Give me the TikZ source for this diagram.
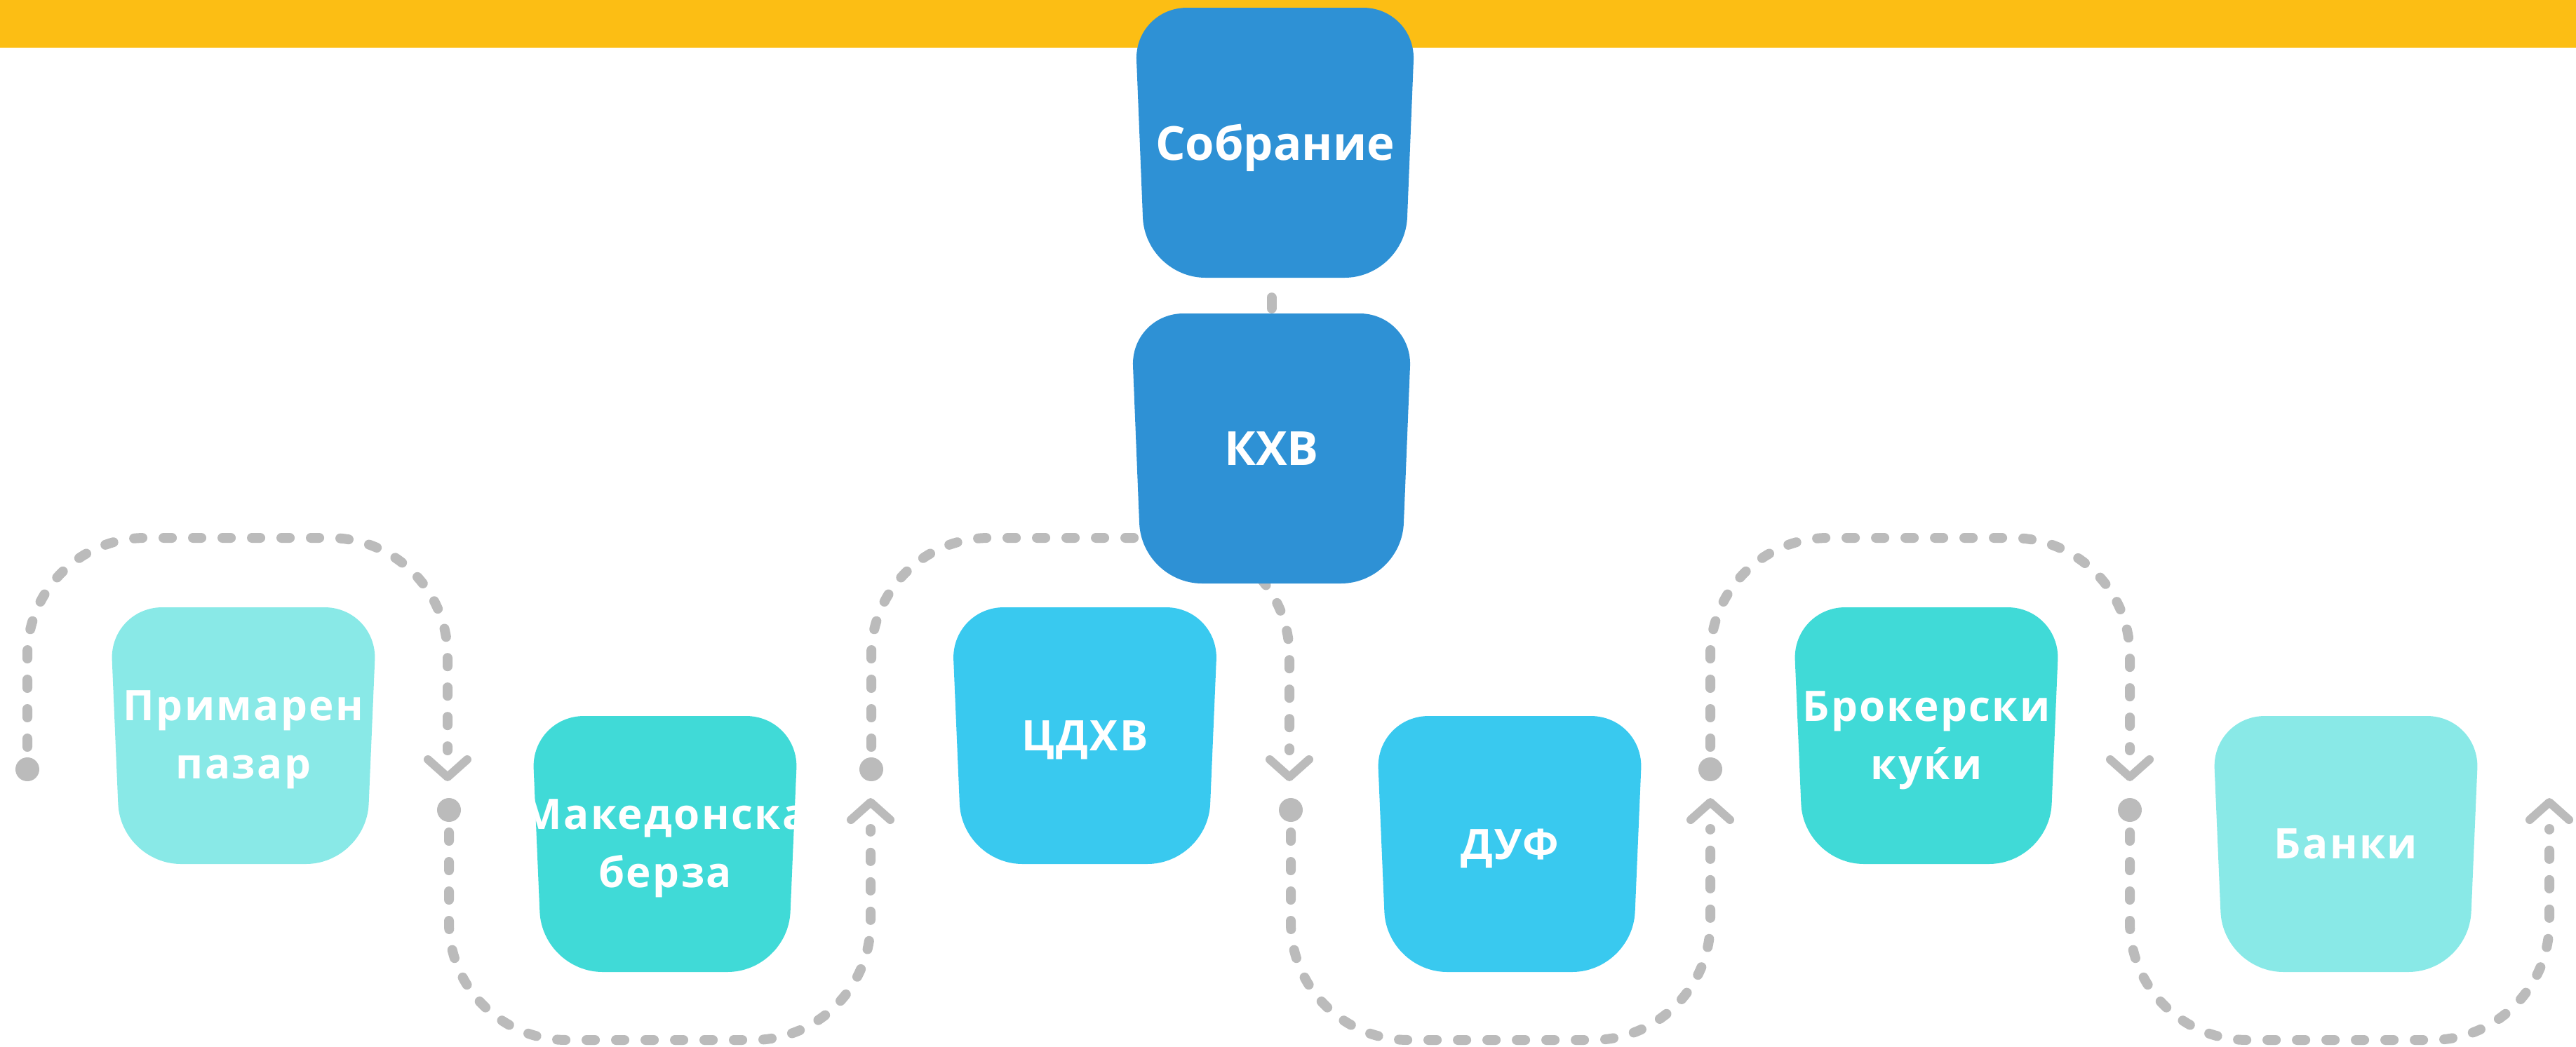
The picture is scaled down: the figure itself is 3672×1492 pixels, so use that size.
\documentclass[tikz,border=0pt]{standalone}
\usepackage{fontspec}
\setmainfont{Open Sans}
\newfontfamily\smallspaced{Open Sans}[LetterSpace=4]
\definecolor{topyellow}{HTML}{FCBE14}
\definecolor{dblue}{HTML}{2E91D5}
\definecolor{lblue}{HTML}{39C9EF}
\definecolor{turq}{HTML}{40DAD7}
\definecolor{pale}{HTML}{89E9E7}
\definecolor{flowgray}{HTML}{BBBBBB}
\tikzset{
  flow/.style={draw=flowgray, line width=14pt, line cap=round, dash pattern=on 12pt off 30pt, rounded corners=168pt},
  chev/.style={draw=flowgray, line width=12pt, line cap=round, line join=round},
  link/.style={draw=flowgray, line width=14pt, line cap=round},
  dotn/.style={circle, fill=flowgray, inner sep=0pt, minimum size=34pt},
  lbl/.style={text=white, align=center, inner sep=0pt},
  bigtxt/.style={font=\bfseries\fontsize{67}{83}\selectfont},
  smalltxt/.style={font=\smallspaced\bfseries\fontsize{60}{83}\selectfont},
}
% #1 name, #2 cx, #3 ytop, #4 ybot, #5 top half width, #6 bottom half width, #7 colour, #8 text options, #9 text
\newcommand\tbox[9]{%
  \fill[#7] (#2,#3) [rounded corners=75pt] -- ({#2+#5},#3) -- ({#2+(#5+#6)/2},{(#3+#4)/2})
     [rounded corners=86pt] -- ({#2+#6},#4) -- ({#2-#6},#4) -- ({#2-(#5+#6)/2},{(#3+#4)/2})
     [rounded corners=75pt] -- ({#2-#5},#3) -- cycle;
  \node[lbl, #8, minimum width={2*#5}, minimum height={#4-#3}] (#1) at (#2,{(#3+#4)/2}) {#9};
}
\begin{document}
\begin{tikzpicture}[x=1pt,y=-1pt]
\useasboundingbox (0,0) rectangle (3672,1492);
\fill[topyellow] (0,0) rectangle (3672,68);

% dots
\node[dotn] (d0) at (39,1097) {};
\node[dotn] (d1) at (640,1155) {};
\node[dotn] (d2) at (1242,1097) {};
\node[dotn] (d3) at (1840,1155) {};
\node[dotn] (d4) at (2438,1097) {};
\node[dotn] (d5) at (3036,1155) {};
% chevron tips
\coordinate (t1) at (638,1108);
\coordinate (t2) at (1241,1144);
\coordinate (t3) at (1838,1108);
\coordinate (t4) at (2438,1144);
\coordinate (t5) at (3036,1108);
\coordinate (t6) at (3634,1144);

% arches over the upper row
\draw[flow, shorten <=32pt, shorten >=38pt] (d0.center) -- (d0.center |- 0,767) -- (t1 |- 0,767) -- (t1);
\draw[flow, shorten <=32pt, shorten >=38pt] (d2.center) -- (d2.center |- 0,767) -- (t3 |- 0,767) -- (t3);
\draw[flow, shorten <=32pt, shorten >=38pt] (d4.center) -- (d4.center |- 0,767) -- (t5 |- 0,767) -- (t5);
% U-turns under the lower row
\draw[flow, shorten <=32pt, shorten >=38pt] (d1.center) -- (d1.center |- 0,1483) -- (t2 |- 0,1483) -- (t2);
\draw[flow, shorten <=32pt, shorten >=38pt] (d3.center) -- (d3.center |- 0,1483) -- (t4 |- 0,1483) -- (t4);
\draw[flow, shorten <=32pt, shorten >=38pt] (d5.center) -- (d5.center |- 0,1483) -- (t6 |- 0,1483) -- (t6);
% chevrons
\draw[chev] ([shift={(-28,-25)}]t1) -- (t1) -- ([shift={(28,-25)}]t1);
\draw[chev] ([shift={(-28,25)}]t2) -- (t2) -- ([shift={(28,25)}]t2);
\draw[chev] ([shift={(-28,-25)}]t3) -- (t3) -- ([shift={(28,-25)}]t3);
\draw[chev] ([shift={(-28,25)}]t4) -- (t4) -- ([shift={(28,25)}]t4);
\draw[chev] ([shift={(-28,-25)}]t5) -- (t5) -- ([shift={(28,-25)}]t5);
\draw[chev] ([shift={(-28,25)}]t6) -- (t6) -- ([shift={(28,25)}]t6);

% boxes
\tbox{prim}{347}{866}{1232}{190.5}{175}{pale}{smalltxt, yshift=-6pt}{Примарен\\пазар}
\tbox{berza}{948}{1021}{1386}{190.5}{175}{turq}{smalltxt, yshift=-6pt}{Македонска\\берза}
\tbox{cdhv}{1546.5}{866}{1232}{190.5}{175}{lblue}{smalltxt, yshift=-6pt}{ЦДХВ}
\tbox{duf}{2152}{1021}{1386}{190.5}{175}{lblue}{smalltxt, yshift=-6pt}{ДУФ}
\tbox{brok}{2746}{866}{1232}{190.5}{175}{turq}{smalltxt, yshift=-7pt}{Брокерски\\куќи}
\tbox{bank}{3344}{1021}{1386}{190.5}{175}{pale}{smalltxt}{Банки}

\tbox{sob}{1817.5}{11}{396}{200.5}{185}{dblue}{bigtxt, yshift=-7pt}{Собрание}
\tbox{kxb}{1812.5}{447}{832}{200.5}{185}{dblue}{bigtxt}{КХВ}
\draw[link, shorten <=21pt, shorten >=7pt] (kxb.north |- sob.south) -- (kxb.north);
\end{tikzpicture}
\end{document}
